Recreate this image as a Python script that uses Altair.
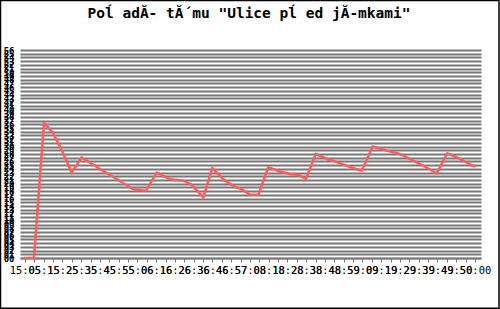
import json
import altair as alt
import pandas as pd

# data
t = [-0.1, 0.96, 2.03, 2.99, 3.91, 4.98, 6.05, 8.18, 9.95, 11.55, 12.91, 14.05, 15.47, 16.89,
     17.78, 19.02, 19.98, 21.33, 22.4, 23.29, 24.0, 24.89, 25.95, 27.2, 28.27, 29.15, 29.97,
     31.01, 32.46, 32.88, 34.31, 35.91, 37.09, 38.58, 40.0, 42.13, 43.91, 45.05, 46.4, 48.0]
value = [0, 0, 36.4, 33.7, 29.1, 23.0, 27.1, 23.7, 21.0, 18.5, 18.1, 23.0, 21.2, 20.8,
         19.7, 16.3, 24.2, 20.8, 19.2, 18.3, 17.0, 17.0, 24.4, 23.3, 22.6, 22.4, 21.3,
         28.0, 26.4, 26.2, 24.8, 23.5, 30.0, 28.9, 28.0, 25.3, 22.8, 28.2, 26.7, 24.5]

label_parts = ["15", "05", "15", "25", "35", "45", "55", "06", "16", "26", "36", "46", "57",
               "08", "18", "28", "38", "48", "59", "09", "19", "29", "39", "49", "50", "00"]
x_labels = [label_parts[i] + ":" + label_parts[i + 1] for i in range(len(label_parts) - 1)]
x_ticks = list(range(0, 2 * len(x_labels) - 1))
y_ticks = list(range(0, 57))

title_text = 'Poĺ adĂ- tĂ´mu "Ulice pĺ ed jĂ-mkami"'

df = pd.DataFrame({"t": t, "value": value})

label_expr = "datum.value % 2 == 0 ? " + json.dumps(x_labels) + "[datum.value / 2] : ''"

line = alt.Chart(df).mark_line(color="#ff5c5c", strokeWidth=2.5, strokeJoin="miter").encode(
    x=alt.X("t:Q", scale=alt.Scale(domain=[-0.53, 48.64], nice=False, zero=False),
            axis=alt.Axis(values=x_ticks, labelExpr=label_expr, title=None, grid=False,
                          labelOverlap=False, labelFlush=False, labelBound=False,
                          labelFont="DejaVu Sans Mono", labelFontSize=10.4, labelColor="#000",
                          labelPadding=3, tickSize=4, tickColor="#777", domainColor="#777",
                          domainWidth=1.5)),
    y=alt.Y("value:Q", scale=alt.Scale(domain=[0, 56], nice=False),
            axis=alt.Axis(values=y_ticks, format="02d", title=None, grid=True,
                          gridColor="#777", gridWidth=2, domain=False, tickSize=0,
                          labelOverlap=False, labelFlush=False, labelBound=False,
                          labelFont="DejaVu Sans Mono", labelFontSize=9, labelFontWeight="bold",
                          labelColor="#000", labelPadding=6)),
)

meta = pd.DataFrame({"title": [title_text]})

title = alt.Chart(meta).mark_text(font="DejaVu Sans Mono", fontSize=14.5, fontWeight="bold",
                                  color="#000", align="center", baseline="alphabetic").encode(
    text="title:N", x=alt.value(229), y=alt.value(-32)
)

border = alt.Chart(meta).mark_rect(fill=None, stroke="#000", strokeWidth=1.5).encode(
    x=alt.value(-19.5), x2=alt.value(479), y=alt.value(-49.5), y2=alt.value(258.2)
)

chart = alt.layer(line, title, border).properties(
    width=461, height=208,
    autosize=alt.AutoSizeParams(type="none"),
    padding={"left": 20, "top": 50, "right": 19, "bottom": 51},
    background="white",
).configure_view(stroke=None)

chart.save("out.html", embed_options={"renderer": "svg", "actions": False})
